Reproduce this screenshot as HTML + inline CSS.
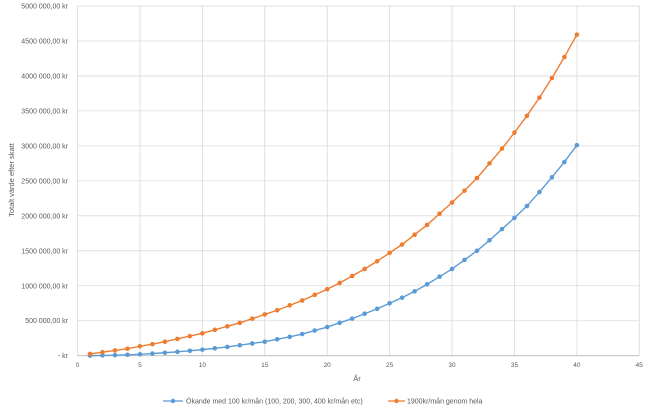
<!DOCTYPE html>
<html><head><meta charset="utf-8"><style>
html,body{margin:0;padding:0;background:#fff;}
svg text{font-family:"Liberation Sans",sans-serif;fill:#595959;}
</style></head><body>
<svg width="650" height="407" viewBox="0 0 650 407" xmlns="http://www.w3.org/2000/svg">
<g id="grid"></g>
<g id="yticks"></g>
<g id="xticks"></g>
<g id="series"></g>
<text x="14" y="180" font-size="7.5" text-anchor="middle" transform="rotate(-90 14 180)">Totalt värde efter skatt</text>
<text x="357" y="381" font-size="7.5" text-anchor="middle">År</text>
<g>
<line x1="163" y1="401" x2="183" y2="401" stroke="#5b9bd5" stroke-width="1.3"/>
<circle cx="173" cy="401" r="2.2" fill="#5b9bd5"/>
<text x="186" y="403.5" font-size="7">Ökande med 100 kr/mån (100, 200, 300, 400 kr/mån etc)</text>
</g>
<g>
<line x1="388" y1="401" x2="405" y2="401" stroke="#ed7d31" stroke-width="1.3"/>
<circle cx="396.5" cy="401" r="2.2" fill="#ed7d31"/>
<text x="407" y="403.5" font-size="7">1900kr/mån genom hela</text>
</g>
</svg>
<script>
const years = Array.from({length:40},(_,i)=>i+1);
const increasingSeries = [0.001,0.004,0.008,0.013,0.02,0.03,0.042,0.055,0.07,0.087,0.105,0.126,0.15,0.175,0.2,0.235,0.27,0.31,0.36,0.41,0.47,0.53,0.6,0.67,0.75,0.83,0.92,1.02,1.13,1.24,1.37,1.50,1.65,1.81,1.97,2.14,2.34,2.55,2.77,3.01];
const constantSeries = [0.025,0.05,0.075,0.1,0.135,0.165,0.2,0.24,0.28,0.32,0.37,0.42,0.47,0.53,0.59,0.65,0.72,0.79,0.87,0.95,1.04,1.14,1.24,1.35,1.47,1.59,1.73,1.87,2.03,2.19,2.36,2.54,2.75,2.96,3.19,3.43,3.69,3.97,4.27,4.59];
const yTickLabels = ["-   kr","500 000,00 kr","1000 000,00 kr","1500 000,00 kr","2000 000,00 kr","2500 000,00 kr","3000 000,00 kr","3500 000,00 kr","4000 000,00 kr","4500 000,00 kr","5000 000,00 kr"];
const xTickLabels = [0,5,10,15,20,25,30,35,40,45];

const NS="http://www.w3.org/2000/svg";
const X0=77.5,X1=639.3,Y0=355.7,Y1=6;
const xs=v=>X0+(v/45)*(X1-X0);
const ys=v=>Y0-(v/5)*(Y0-Y1);
function mk(t,a){const e=document.createElementNS(NS,t);for(const k in a)e.setAttribute(k,a[k]);return e;}
const grid=document.getElementById('grid'),yt=document.getElementById('yticks'),xt=document.getElementById('xticks'),ser=document.getElementById('series');
yTickLabels.forEach((lab,i)=>{
  const y=ys(i*0.5);
  const l=mk('line',{x1:X0,x2:X1,y1:y,y2:y,stroke:'#d9d9d9','stroke-width':0.8});
  
  
  grid.appendChild(l);
  const t=mk('text',{x:68,y:y+2.5,'font-size':7,'text-anchor':'end'});
  t.textContent=lab;
  
  
  yt.appendChild(t);
});
xTickLabels.forEach(v=>{
  const x=xs(v);
  const l=mk('line',{x1:x,x2:x,y1:Y1,y2:Y0,stroke:'#d9d9d9','stroke-width':0.8});
  
  
  grid.appendChild(l);
  const t=mk('text',{x:x,y:367,'font-size':6.5,'text-anchor':'middle'});
  t.textContent=v;
  
  
  xt.appendChild(t);
});
const ax=mk('line',{x1:X0,x2:X1,y1:Y0,y2:Y0,stroke:'#bfbfbf','stroke-width':0.8});


grid.appendChild(ax);
function drawSeries(vals,color,name){
  const g=mk('g',{});
  
  
  const pts=vals.map((v,i)=>xs(years[i]).toFixed(2)+','+ys(v).toFixed(2)).join(' ');
  const pl=mk('polyline',{points:pts,fill:'none',stroke:color,'stroke-width':1.4});
  
  
  g.appendChild(pl);
  vals.forEach((v,i)=>{
    const c=mk('circle',{cx:xs(years[i]),cy:ys(v),r:2.3,fill:color});
    
    
    g.appendChild(c);
  });
  ser.appendChild(g);
}
drawSeries(increasingSeries,'#5b9bd5','series-increasing');
drawSeries(constantSeries,'#ed7d31','series-constant');
</script>
</body></html>
